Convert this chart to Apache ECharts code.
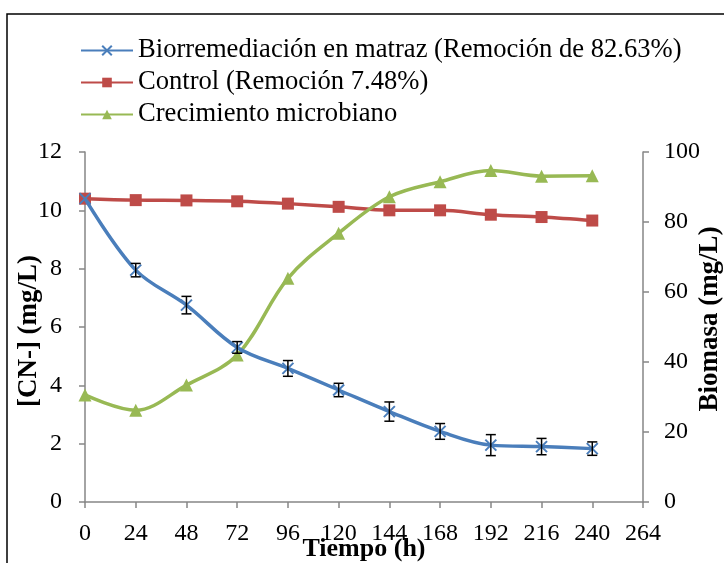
<!DOCTYPE html>
<html>
<head>
<meta charset="utf-8">
<script src="https://cdn.jsdelivr.net/npm/echarts@6/dist/echarts.min.js"></script>
<style>
  html, body { margin: 0; padding: 0; background: #fff; }
  #chart { width: 724px; height: 563px; }
</style>
</head>
<body>
<div id="chart"></div>
<script>
// tiempo (h)
var hours = [0, 24, 48, 72, 96, 120, 144, 168, 192, 216, 240];
// [CN-] mg/L, biorremediación en matraz
var bioValues = [10.4, 7.95, 6.75, 5.3, 4.58, 3.84, 3.1, 2.42, 1.95, 1.9, 1.83];
var bioErrors = [0, 0.23, 0.3, 0.2, 0.27, 0.23, 0.33, 0.27, 0.36, 0.28, 0.23];
// [CN-] mg/L, control
var controlValues = [10.4, 10.35, 10.34, 10.31, 10.23, 10.12, 10.0, 10.0, 9.85, 9.77, 9.65];
// biomasa mg/L
var biomass = [30.6, 26.2, 33.4, 42, 63.9, 76.8, 87.2, 91.5, 94.7, 93.1, 93.2];

var font = "'Liberation Serif', 'Times New Roman', serif";
var blue = "#4a7ebb", red = "#be4b48", green = "#98b954", axisGray = "#868686";

function pairs(vals) {
  return hours.map(function (h, i) { return [h, vals[i]]; });
}

var titleStyle = { fontFamily: font, fontSize: 27, fontWeight: "bold", color: "#000" };
var tickLabel = { fontFamily: font, fontSize: 24, color: "#000" };

var chart = echarts.init(document.getElementById("chart"));
chart.setOption({
  animation: false,
  textStyle: { fontFamily: font },
  graphic: [{
    type: "rect",
    shape: { x: 7, y: 14, width: 740, height: 570 },
    style: { fill: "none", stroke: "#000", lineWidth: 1.5 },
    silent: true
  }],
  legend: {
    orient: "vertical",
    left: 75,
    top: 32,
    itemWidth: 52,
    itemHeight: 12,
    itemGap: 5,
    textStyle: { fontFamily: font, fontSize: 26.6, lineHeight: 26, color: "#000" },
    data: ["Biorremediación en matraz (Remoción de 82.63%)", "Control (Remoción 7.48%)", "Crecimiento microbiano"]
  },
  grid: { left: 85, right: 81, top: 152, bottom: 61, containLabel: false, outerBoundsMode: "none" },
  xAxis: {
    type: "value",
    min: 0, max: 264, interval: 24,
    name: "Tiempo (h)",
    nameLocation: "middle",
    nameGap: 34,
    nameMoveOverlap: false,
    nameTextStyle: { fontFamily: font, fontSize: 26, fontWeight: "bold", color: "#000" },
    axisLine: { lineStyle: { color: axisGray, width: 1.5 } },
    axisTick: { inside: false, length: 6, lineStyle: { color: axisGray, width: 1.5 } },
    axisLabel: Object.assign({ margin: 20 }, tickLabel),
    splitLine: { show: false }
  },
  yAxis: [{
    type: "value",
    min: 0, max: 12, interval: 2,
    name: "[CN-] (mg/L)",
    nameLocation: "middle",
    nameRotate: 90,
    nameGap: 42,
    nameMoveOverlap: false,
    nameTextStyle: Object.assign({ padding: [0, 8, 0, 0] }, titleStyle),
    axisLine: { show: true, lineStyle: { color: axisGray, width: 1.5 } },
    axisTick: { show: true, length: 6, lineStyle: { color: axisGray, width: 1.5 } },
    axisLabel: Object.assign({ margin: 23 }, tickLabel),
    splitLine: { show: false }
  }, {
    type: "value",
    min: 0, max: 100, interval: 20,
    name: "Biomasa (mg/L)",
    nameLocation: "middle",
    nameRotate: 90,
    nameGap: 54,
    nameMoveOverlap: false,
    nameTextStyle: Object.assign({ padding: [0, 0, 0, 16] }, titleStyle),
    axisLine: { show: true, lineStyle: { color: axisGray, width: 1.5 } },
    axisTick: { show: true, length: 6, lineStyle: { color: axisGray, width: 1.5 } },
    axisLabel: Object.assign({ margin: 21 }, tickLabel),
    splitLine: { show: false }
  }],
  series: [{
    name: "Biorremediación en matraz (Remoción de 82.63%)",
    type: "line",
    smooth: 0.35,
    yAxisIndex: 0,
    data: pairs(bioValues),
    symbol: "path://M0,0L10,10M10,0L0,10",
    symbolSize: 11,
    lineStyle: { color: blue, width: 3.5 },
    itemStyle: { color: blue, borderColor: blue, borderWidth: 2 },
    z: 3
  }, {
    name: "Control (Remoción 7.48%)",
    type: "line",
    smooth: 0.35,
    yAxisIndex: 0,
    data: pairs(controlValues),
    symbol: "rect",
    symbolSize: 12,
    lineStyle: { color: red, width: 3.5 },
    itemStyle: { color: red },
    z: 2
  }, {
    name: "Crecimiento microbiano",
    type: "line",
    smooth: 0.35,
    yAxisIndex: 1,
    data: pairs(biomass),
    symbol: "triangle",
    symbolSize: 13,
    lineStyle: { color: green, width: 3.5 },
    itemStyle: { color: green },
    z: 2
  }, {
    type: "custom",
    name: "error",
    yAxisIndex: 0,
    data: hours.map(function (h, i) { return [h, bioValues[i] - bioErrors[i], bioValues[i] + bioErrors[i]]; }),
    renderItem: function (params, api) {
      var lo = api.coord([api.value(0), api.value(1)]);
      var hi = api.coord([api.value(0), api.value(2)]);
      if (Math.abs(hi[1] - lo[1]) < 1) return null;
      var w = 5;
      var st = { stroke: "#000", lineWidth: 1.5 };
      return {
        type: "group",
        children: [
          { type: "line", shape: { x1: hi[0], y1: hi[1], x2: lo[0], y2: lo[1] }, style: st },
          { type: "line", shape: { x1: hi[0] - w, y1: hi[1], x2: hi[0] + w, y2: hi[1] }, style: st },
          { type: "line", shape: { x1: lo[0] - w, y1: lo[1], x2: lo[0] + w, y2: lo[1] }, style: st }
        ]
      };
    },
    z: 4
  }]
});
</script>
</body>
</html>
